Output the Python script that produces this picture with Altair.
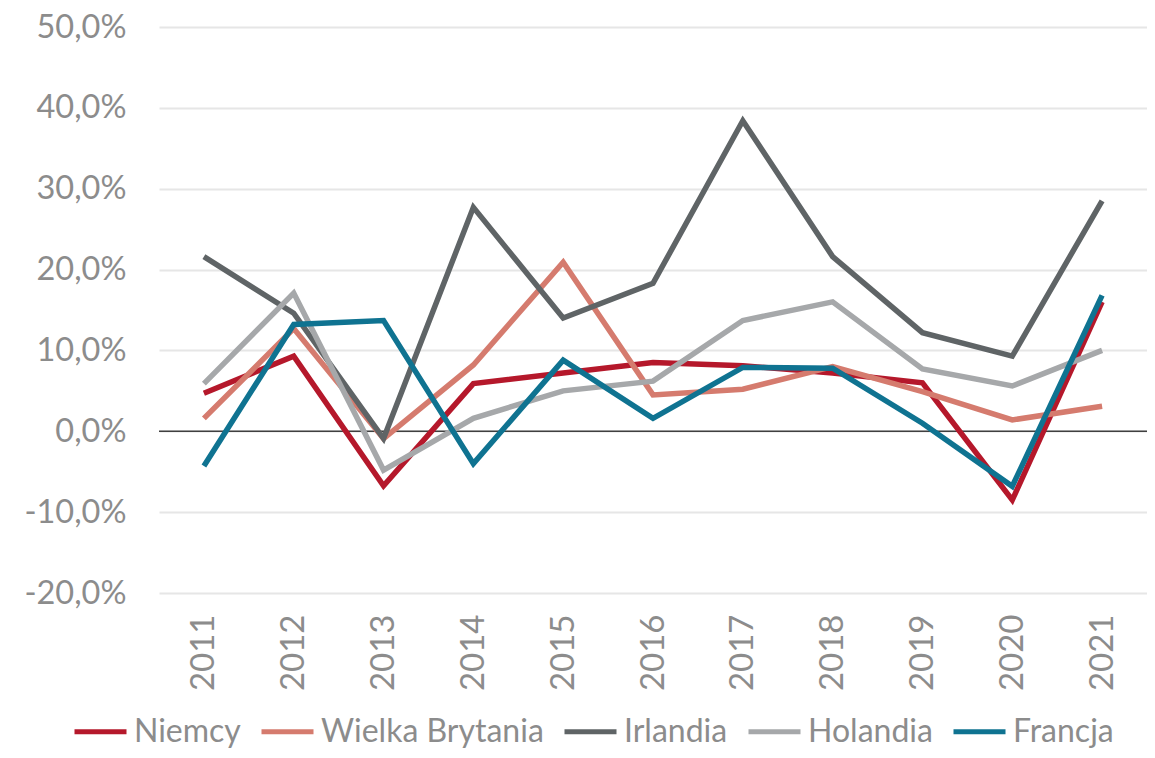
import altair as alt
import pandas as pd

years = ["2011", "2012", "2013", "2014", "2015", "2016", "2017", "2018", "2019", "2020", "2021"]
series_names = ["Niemcy", "Wielka Brytania", "Irlandia", "Holandia", "Francja"]
niemcy = [4.7, 9.3, -6.75, 5.9, 7.2, 8.5, 8.1, 7.2, 6.0, -8.5, 16.0]
wielka_brytania = [1.6, 12.7, -0.9, 8.2, 20.9, 4.5, 5.2, 8.0, 4.9, 1.4, 3.1]
irlandia = [21.6, 14.6, -0.9, 27.7, 14.0, 18.3, 38.4, 21.6, 12.2, 9.3, 28.5]
holandia = [5.9, 17.1, -4.8, 1.6, 5.0, 6.2, 13.7, 16.0, 7.7, 5.6, 10.0]
francja = [-4.3, 13.2, 13.7, -4.0, 8.8, 1.6, 7.9, 7.8, 1.0, -6.8, 16.8]
colors = ["#B5182B", "#D57B6E", "#5F6466", "#A6A8AA", "#0F7391"]

values = [niemcy, wielka_brytania, irlandia, holandia, francja]
rows = []
for name, vals in zip(series_names, values):
    for y, v in zip(years, vals):
        rows.append({"rok": y, "kraj": name, "wartosc": v})
df = pd.DataFrame(rows)

FONT = "Lato"
TXT = "#8C8C8C"

lines = alt.Chart(df).mark_line(strokeWidth=5.5, strokeJoin="miter").encode(
    x=alt.X("rok:O", sort=years, scale=alt.Scale(type="point", padding=0.5),
            axis=alt.Axis(title=None, labelAngle=270, labelFontSize=33, labelColor=TXT,
                          labelFont=FONT, ticks=False, domain=False, labelPadding=21,
                          grid=False)),
    y=alt.Y("wartosc:Q", scale=alt.Scale(domain=[-20, 50], nice=False),
            axis=alt.Axis(title=None, values=[-20, -10, 0, 10, 20, 30, 40, 50],
                          labelExpr="replace(replace(format(datum.value, '.1f'), '.', ','), '\u2212', '-') + '%'",
                          labelFontSize=32.5, labelColor=TXT, labelFont=FONT,
                          ticks=False, domain=False, labelPadding=33,
                          gridColor="#E6E6E6", gridWidth=2)),
    color=alt.Color("kraj:N", sort=series_names,
                    scale=alt.Scale(domain=series_names, range=colors),
                    legend=alt.Legend(title=None, orient="none", direction="horizontal",
                                      legendX=-87, legendY=676, padding=0,
                                      symbolType="stroke", symbolSize=2704,
                                      symbolStrokeWidth=5, labelFontSize=32,
                                      labelFont=FONT, labelColor=TXT, labelOffset=5,
                                      columnPadding=10, labelLimit=400)),
    order=alt.value(0),
)

zero = alt.Chart(pd.DataFrame({"z": [0]})).mark_rule(color="#404040", strokeWidth=1.5).encode(
    y="z:Q"
)

chart = alt.layer(zero, lines).properties(
    width=988, height=566,
    autosize=alt.AutoSizeParams(type="none"),
    padding={"left": 151, "top": 19, "right": 0, "bottom": 157},
).configure_view(stroke=None)

chart.save("out.html", embed_options={"renderer": "svg", "actions": False})
